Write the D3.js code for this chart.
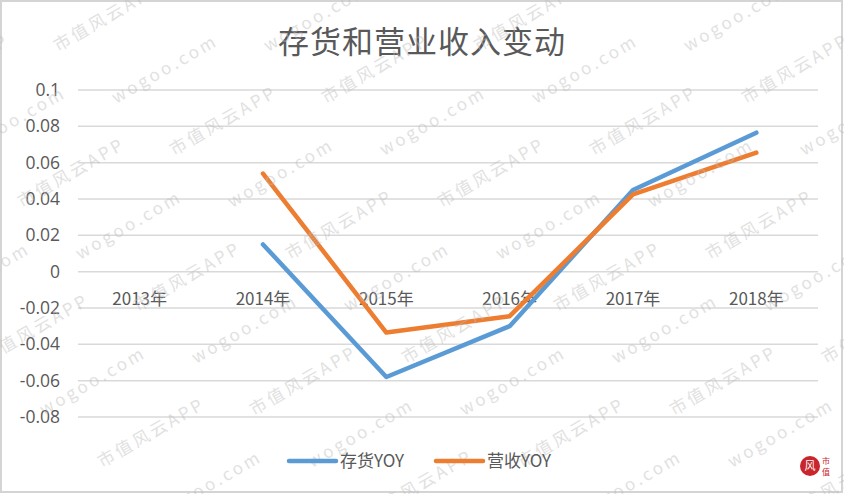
<!DOCTYPE html>
<html>
<head>
<meta charset="utf-8">
<script src="https://cdn.jsdelivr.net/npm/d3@7"></script>
<style>
  body { margin: 0; background: #fff; }
  text { font-family: "Noto Sans CJK SC", "Open Sans", sans-serif; }
</style>
</head>
<body>
<div id="chart"></div>
<script>
// chart values
var years = ["2013年", "2014年", "2015年", "2016年", "2017年", "2018年"];
var inventoryYoy = [null, 0.015, -0.058, -0.030, 0.045, 0.0765];
var revenueYoy = [null, 0.054, -0.0335, -0.0245, 0.0425, 0.0655];
var yTicks = [-0.08, -0.06, -0.04, -0.02, 0, 0.02, 0.04, 0.06, 0.08, 0.1];
var seriesNames = ["存货YOY", "营收YOY"];

var svgWidth = 844;
var svgHeight = 494;

var margin = { top: 90, right: 26, bottom: 77, left: 78 };
var chartWidth = svgWidth - margin.left - margin.right;
var chartHeight = svgHeight - margin.top - margin.bottom;

var svg = d3.select("#chart")
  .append("svg")
  .attr("width", svgWidth)
  .attr("height", svgHeight);

// outer frame
svg.append("rect")
  .attr("x", 1).attr("y", 1)
  .attr("width", svgWidth - 3).attr("height", svgHeight - 3)
  .attr("fill", "#fff")
  .attr("stroke", "#d4d4d4")
  .attr("stroke-width", 2);

// title
svg.append("text")
  .attr("x", svgWidth / 2)
  .attr("y", 53)
  .attr("text-anchor", "middle")
  .style("font-size", "31px")
  .style("letter-spacing", "1px")
  .style("fill", "#595959")
  .text("存货和营业收入变动");

var chartGroup = svg.append("g")
  .attr("transform", `translate(${margin.left}, ${margin.top})`);

var xScale = d3.scaleBand()
  .domain(years)
  .range([0, chartWidth]);

var yScale = d3.scaleLinear()
  .domain([-0.08, 0.1])
  .range([chartHeight, 0]);

// gridlines
chartGroup.append("g")
  .selectAll("line")
  .data(yTicks)
  .enter()
  .append("line")
  .attr("x1", 0)
  .attr("x2", chartWidth)
  .attr("y1", d => yScale(d))
  .attr("y2", d => yScale(d))
  .attr("stroke", "#d9d9d9")
  .attr("stroke-width", 1.5);

// y axis labels
var leftAxis = d3.axisLeft(yScale)
  .tickValues(yTicks)
  .tickSize(0)
  .tickPadding(18)
  .tickFormat(d => String(+d.toFixed(2)));

var yAxisG = chartGroup.append("g").call(leftAxis);
yAxisG.select(".domain").remove();
yAxisG.selectAll("text")
  .style("font-size", "17.5px")
  .style("fill", "#595959")
  .style("font-family", "'Open Sans', sans-serif");

// category labels sit just under the zero line
chartGroup.append("g")
  .selectAll("text")
  .data(years)
  .enter()
  .append("text")
  .attr("x", d => xScale(d) + xScale.bandwidth() / 2)
  .attr("y", yScale(0) + 33)
  .attr("text-anchor", "middle")
  .style("font-size", "17px")
  .style("fill", "#595959")
  .text(d => d);

// watermark
var wm = svg.append("g").style("pointer-events", "none");
var wmTexts = ["wogoo.com", "市值风云APP"];
for (var r = -2; r < 12; r++) {
  for (var c = -2; c < 8; c++) {
    var wx = c * 210 + r * 58;
    var wy = r * 52;
    wm.append("text")
      .attr("transform", `translate(${wx},${wy}) rotate(-30)`)
      .style("font-size", "17px")
      .style("letter-spacing", "3px")
      .style("fill", "#bdbdbd")
      .style("opacity", 0.45)
      .text(wmTexts[(r + c + 40) % 2]);
  }
}

// lines
var lineFn = d3.line()
  .defined(d => d.v !== null)
  .x(d => xScale(d.year) + xScale.bandwidth() / 2)
  .y(d => yScale(d.v));

var colors = ["#5b9bd5", "#ed7d31"];
[inventoryYoy, revenueYoy].forEach(function(vals, i) {
  var pts = years.map((y, j) => ({ year: y, v: vals[j] }));
  chartGroup.append("path")
    .datum(pts)
    .attr("d", lineFn)
    .attr("fill", "none")
    .attr("stroke", colors[i])
    .attr("stroke-width", 4.5)
    .attr("stroke-linejoin", "round")
    .attr("stroke-linecap", "round");
});

// legend
var legendX = [289, 436];
seriesNames.forEach(function(name, i) {
  var g = svg.append("g").attr("transform", `translate(${legendX[i]}, 461)`);
  g.append("line")
    .attr("x1", 0).attr("x2", 47)
    .attr("y1", 0).attr("y2", 0)
    .attr("stroke", colors[i])
    .attr("stroke-width", 4.5)
    .attr("stroke-linecap", "round");
  g.append("text")
    .attr("x", 51)
    .attr("y", 6)
    .style("font-size", "17px")
    .style("fill", "#595959")
    .text(name);
});

// small logo bottom-right
var logo = svg.append("g").attr("transform", "translate(810, 466)");
logo.append("circle").attr("r", 10).attr("fill", "#c9252c");
logo.append("text")
  .attr("x", 0).attr("y", 4)
  .attr("text-anchor", "middle")
  .style("font-size", "11px")
  .style("fill", "#fff")
  .text("风");
logo.append("text")
  .attr("x", 12).attr("y", -2)
  .style("font-size", "8px")
  .style("fill", "#c9252c")
  .text("市");
logo.append("text")
  .attr("x", 12).attr("y", 9)
  .style("font-size", "8px")
  .style("fill", "#c9252c")
  .text("值");
</script>
</body>
</html>
